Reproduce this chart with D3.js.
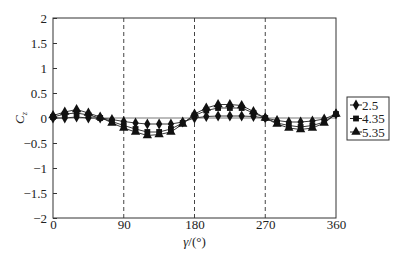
<!DOCTYPE html>
<html>
<head>
<meta charset="utf-8">
<script src="https://cdn.jsdelivr.net/npm/d3@7"></script>
<style>
  body { margin: 0; background: #fff; }
  svg text { font-family: "Liberation Serif", "Times New Roman", serif; fill: #222; }
</style>
</head>
<body>
<div id="chart"></div>
<script>
// angle values (deg)
const angles = [0, 15, 30, 45, 60, 75, 90, 105, 120, 135, 150, 165, 180,
  195, 210, 225, 240, 255, 270, 285, 300, 315, 330, 345, 360];
const seriesNames = ['2.5', '4.35', '5.35'];
const s25 = [0, 0, 0.02, 0, 0, -0.03, -0.07, -0.1, -0.12, -0.12, -0.12, -0.08, 0,
  0.03, 0.04, 0.04, 0.04, 0.03, 0, -0.05, -0.08, -0.08, -0.06, -0.02, 0.08];
const s435 = [0.02, 0.08, 0.1, 0.06, 0, -0.07, -0.15, -0.22, -0.28, -0.28, -0.22, -0.1, 0.05,
  0.15, 0.2, 0.2, 0.2, 0.1, 0, -0.1, -0.15, -0.18, -0.15, -0.08, 0.08];
const s535 = [0.05, 0.12, 0.17, 0.1, 0.02, -0.1, -0.2, -0.28, -0.35, -0.33, -0.28, -0.12, 0.08,
  0.2, 0.27, 0.27, 0.25, 0.13, 0, -0.12, -0.2, -0.23, -0.2, -0.1, 0.08];
const xTicks = [0, 90, 180, 270, 360];
const yTicks = [-2, -1.5, -1, -0.5, 0, 0.5, 1, 1.5, 2];
const guides = [90, 180, 270];

const width = 419, height = 260;
const margin = {left: 53, right: 83, top: 18, bottom: 42};

const svg = d3.select('#chart').append('svg')
  .attr('width', width)
  .attr('height', height);

const x = d3.scaleLinear().domain([0, 360])
  .range([margin.left, width - margin.right]);
const y = d3.scaleLinear().domain([-2, 2])
  .range([height - margin.bottom, margin.top]);

// dashed guides
svg.selectAll('.guide').data(guides).enter().append('line')
  .attr('class', 'guide')
  .attr('x1', d => x(d)).attr('x2', d => x(d))
  .attr('y1', y(2)).attr('y2', y(-2))
  .attr('stroke', '#444').attr('stroke-width', 1)
  .attr('stroke-dasharray', '4,3');

// zero line
svg.append('line')
  .attr('x1', x(0)).attr('x2', x(360))
  .attr('y1', y(0)).attr('y2', y(0))
  .attr('stroke', '#555').attr('stroke-width', 0.8);

// frame
svg.append('rect')
  .attr('x', x(0)).attr('y', y(2))
  .attr('width', x(360) - x(0)).attr('height', y(-2) - y(2))
  .attr('fill', 'none').attr('stroke', '#333').attr('stroke-width', 1);

// axes with inward ticks
const yAxis = d3.axisLeft(y).tickValues(yTicks).tickSize(-4).tickPadding(6)
  .tickFormat(d => d < 0 ? '\u2212' + Math.abs(d) : d);
svg.append('g')
  .attr('transform', 'translate(' + x(0) + ',0)')
  .call(yAxis)
  .call(g => g.select('.domain').remove())
  .call(g => g.selectAll('.tick line').attr('stroke', '#333'))
  .call(g => g.selectAll('.tick text').attr('font-size', 13));

const xAxis = d3.axisBottom(x).tickValues(xTicks).tickSize(0).tickPadding(2);
svg.append('g')
  .attr('transform', 'translate(0,' + y(-2) + ')')
  .call(xAxis)
  .call(g => g.select('.domain').remove())
  .call(g => g.selectAll('.tick text').attr('font-size', 13));

// axis titles
const yt = svg.append('text')
  .attr('transform', 'translate(24,' + y(0) + ') rotate(-90)')
  .attr('text-anchor', 'middle')
  .attr('font-size', 13)
  .attr('font-style', 'italic');
yt.append('tspan').text('C');
yt.append('tspan').attr('font-size', 8).attr('dy', 3).text('z');

const xt = svg.append('text')
  .attr('x', x(180)).attr('y', 246)
  .attr('text-anchor', 'middle')
  .attr('font-size', 13);
xt.append('tspan').attr('font-style', 'italic').text('\u03b3');
xt.append('tspan').text('/(\u00b0)');

// series
const allSeries = [s25, s435, s535];
const symbols = [d3.symbolDiamond, d3.symbolSquare, d3.symbolTriangle];
const symSizes = [34, 34, 38];
const line = d3.line().x((d, i) => x(angles[i])).y(d => y(d));

allSeries.forEach((vals, si) => {
  svg.append('path')
    .datum(vals)
    .attr('d', line)
    .attr('fill', 'none')
    .attr('stroke', '#222')
    .attr('stroke-width', 0.9);
  svg.selectAll('.m' + si).data(vals).enter().append('path')
    .attr('class', 'm' + si)
    .attr('transform', (d, i) => 'translate(' + x(angles[i]) + ',' + y(d) + ')')
    .attr('d', d3.symbol().type(symbols[si]).size(symSizes[si]))
    .attr('fill', '#111');
});

// legend
const lg = svg.append('g').attr('transform', 'translate(347,97)');
lg.append('rect')
  .attr('width', 42).attr('height', 43)
  .attr('fill', '#fff').attr('stroke', '#333').attr('stroke-width', 1);
seriesNames.forEach((name, i) => {
  const cy = 8 + i * 13.5;
  lg.append('line').attr('x1', 3).attr('x2', 15).attr('y1', cy).attr('y2', cy)
    .attr('stroke', '#222').attr('stroke-width', 1);
  lg.append('path')
    .attr('transform', 'translate(9,' + cy + ')')
    .attr('d', d3.symbol().type(symbols[i]).size(symSizes[i]))
    .attr('fill', '#111');
  lg.append('text').attr('x', 15).attr('y', cy + 4.5)
    .attr('font-size', 13).text(name);
});
</script>
</body>
</html>
